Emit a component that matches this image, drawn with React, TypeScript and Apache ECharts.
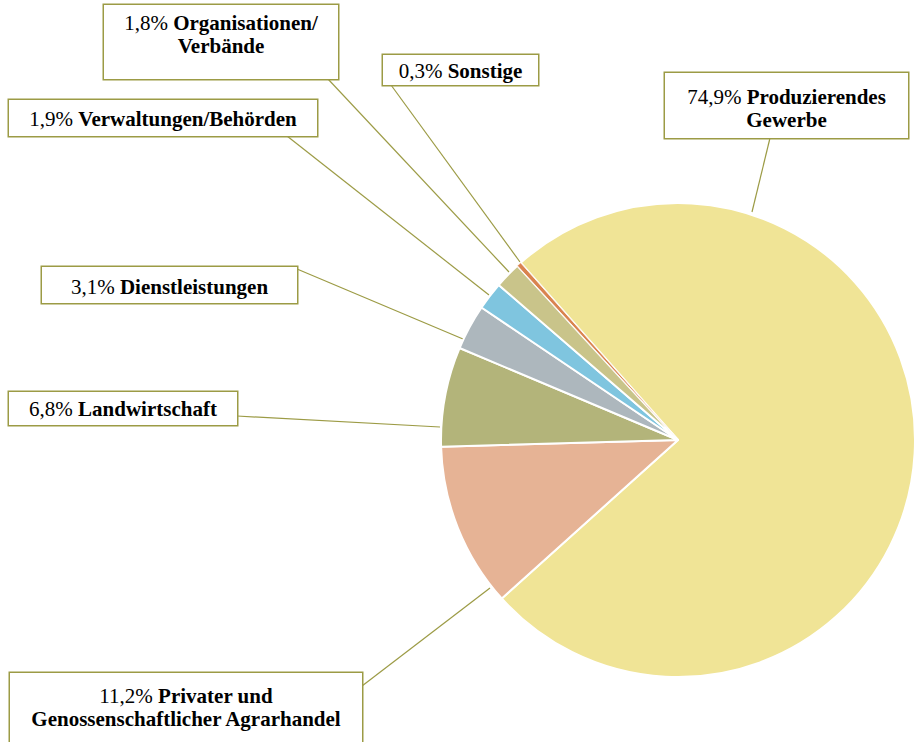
import React, { useEffect, useRef } from "react";
import * as echarts from "echarts";

const categories = [
  "Produzierendes\nGewerbe",
  "Privater und\nGenossenschaftlicher Agrarhandel",
  "Landwirtschaft",
  "Dienstleistungen",
  "Verwaltungen/Behörden",
  "Organisationen/\nVerbände",
  "Sonstige",
];
const shares = [74.9, 11.2, 6.8, 3.1, 1.9, 1.8, 0.3];
const colors = ["#F0E496", "#E6B395", "#B3B47A", "#ADB7BD", "#7FC5DF", "#C9C48A", "#D9834F"];
const sliceBorders = [2, 2, 2, 2, 2, 2, 0.8];

// label boxes: left, top, width, height, top padding
const labelBoxes = [
  { x: 665, y: 73, w: 243, h: 65, pt: 12 },
  { x: 10, y: 673, w: 352, h: 76, pt: 11 },
  { x: 9, y: 392, w: 228, h: 33, pt: 5 },
  { x: 42, y: 267, w: 255, h: 36, pt: 8 },
  { x: 9, y: 100, w: 308, h: 36, pt: 7 },
  { x: 104, y: 5, w: 234, h: 74, pt: 6 },
  { x: 383, y: 55, w: 155, h: 30, pt: 4 },
];
// leader lines: [slice edge, box edge]
const leaderLines = [
  [[752, 212], [770, 138]],
  [[490, 588], [362, 686]],
  [[440, 427], [237, 416]],
  [[463, 339], [297, 269]],
  [[489, 295], [287, 136]],
  [[509, 272], [328, 79]],
  [[520, 262], [391, 85]],
];

const FONT = "'Liberation Serif', 'Times New Roman', serif";
const OLIVE = "#9C9B45";

export default function App() {
  const ref = useRef<HTMLDivElement>(null);
  useEffect(() => {
    const chart = echarts.init(ref.current!, null, { renderer: "svg" });
    const data = shares.map((v, i) => ({
      value: v,
      name: categories[i],
      itemStyle: { color: colors[i], borderWidth: sliceBorders[i] },
      label: {
        width: labelBoxes[i].w,
        height: labelBoxes[i].h - labelBoxes[i].pt,
        padding: [labelBoxes[i].pt, 0, 0, 0],
      },
    }));
    chart.setOption({
      animation: false,
      backgroundColor: "#ffffff",
      series: [
        {
          type: "pie",
          center: [678, 440],
          radius: [0, 237],
          startAngle: 131.6,
          clockwise: true,
          avoidLabelOverlap: false,
          data,
          itemStyle: { borderColor: "#ffffff", borderWidth: 2 },
          label: {
            show: true,
            position: "outside",
            backgroundColor: "#ffffff",
            borderColor: OLIVE,
            borderWidth: 1.5,
            fontFamily: FONT,
            fontSize: 21,
            color: "#000",
            lineHeight: 23,
            formatter: (p: any) => {
              const pct = p.value.toFixed(1).replace(".", ",") + "%";
              const lines = String(p.name).split("\n");
              return (
                `{n|${pct} }{b|${lines[0]}}` +
                lines.slice(1).map((l) => `\n{b|${l}}`).join("")
              );
            },
            rich: {
              n: { fontFamily: FONT, fontSize: 21, fontWeight: "normal", color: "#000", align: "center", lineHeight: 23 },
              b: { fontFamily: FONT, fontSize: 21, fontWeight: "bold", color: "#000", align: "center", lineHeight: 23 },
            },
          },
          labelLine: {
            show: true,
            length: 10,
            length2: 10,
            lineStyle: { color: OLIVE, width: 1.2 },
          },
          labelLayout: (params: any) => {
            const i = params.dataIndex;
            const b = labelBoxes[i];
            const ln = leaderLines[i];
            return {
              x: b.x,
              y: b.y,
              align: "left",
              verticalAlign: "top",
              labelLinePoints: [ln[0], ln[1], ln[1]],
            };
          },
        },
      ],
    });
    return () => chart.dispose();
  }, []);
  return (
    <div
      ref={ref}
      style={{ position: "fixed", left: 0, top: 0, width: 917, height: 742 }}
    />
  );
}
